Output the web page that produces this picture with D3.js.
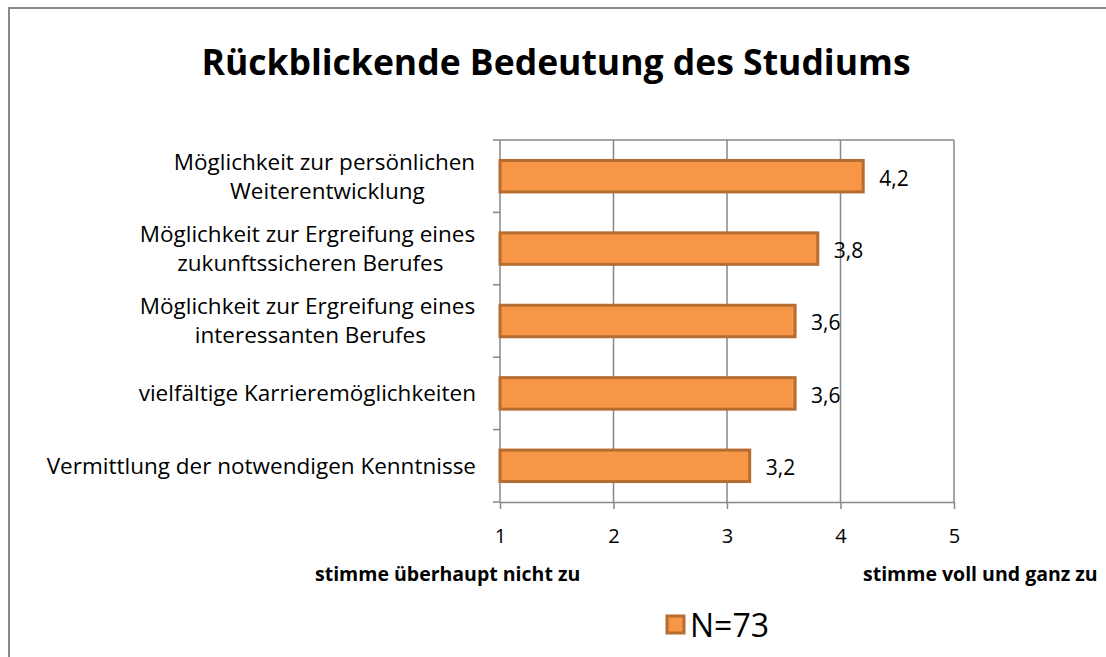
<!DOCTYPE html>
<html>
<head>
<meta charset="utf-8">
<script src="https://cdn.jsdelivr.net/npm/d3@7"></script>
<style>
  body { margin: 0; background: #fff; }
  svg text { font-family: "Open Sans", sans-serif; fill: #000; }
</style>
</head>
<body>
<svg id="chart" width="1106" height="657"></svg>
<script>
(function(d3) {
  "use strict";

  // categories top to bottom, each as lines of the label
  var categories = [
    ["Möglichkeit zur persönlichen ", "Weiterentwicklung"],
    ["Möglichkeit zur Ergreifung eines ", "zukunftssicheren Berufes"],
    ["Möglichkeit zur Ergreifung eines ", "interessanten Berufes"],
    ["vielfältige Karrieremöglichkeiten"],
    ["Vermittlung der notwendigen Kenntnisse"]
  ];
  var values = [4.2, 3.8, 3.6, 3.6, 3.2];
  var ticks = [1, 2, 3, 4, 5];
  var seriesName = "N=73";
  var title = "Rückblickende Bedeutung des Studiums";
  var axisLeftTitle = "stimme überhaupt nicht zu";
  var axisRightTitle = "stimme voll und ganz zu";

  var plot = { left: 500, right: 954, top: 140, bottom: 502 };
  var fill = "#f79646";
  var stroke = "#b66d31";
  var gridColor = "#878787";
  var fmt = function(v) { return d3.format(".1f")(v).replace(".", ","); };

  var svg = d3.select("#chart");

  // outer frame (only left and top edges inside the view)
  svg.append("rect")
    .attr("x", 9).attr("y", 8)
    .attr("width", 1200).attr("height", 700)
    .attr("fill", "none")
    .attr("stroke", "#888")
    .attr("stroke-width", 2);

  svg.append("text")
    .attr("x", 556).attr("y", 75)
    .attr("text-anchor", "middle")
    .style("font-size", "35.5px")
    .style("font-weight", "bold")
    .text(title);

  var x = d3.scaleLinear()
    .domain([1, 5])
    .range([plot.left, plot.right]);
  var y = d3.scaleBand()
    .domain(d3.range(categories.length))
    .range([plot.top, plot.bottom])
    .paddingInner(0.565)
    .paddingOuter(0.2825);
  var band = d3.scaleBand()
    .domain(d3.range(categories.length))
    .range([plot.top, plot.bottom]);

  // vertical gridlines
  svg.append("g")
    .selectAll("line")
    .data(ticks.slice(1))
    .enter()
    .append("line")
    .attr("x1", d => x(d)).attr("x2", d => x(d))
    .attr("y1", plot.top).attr("y2", plot.bottom)
    .attr("stroke", gridColor)
    .attr("stroke-width", 1.5);
  svg.append("line")
    .attr("x1", plot.left).attr("x2", plot.right)
    .attr("y1", plot.top).attr("y2", plot.top)
    .attr("stroke", gridColor)
    .attr("stroke-width", 1.5);

  // bottom axis
  var xAxis = svg.append("g")
    .attr("transform", `translate(0,${plot.bottom})`)
    .call(d3.axisBottom(x).tickValues(ticks).tickFormat(d3.format("d"))
      .tickSize(7).tickSizeOuter(0).tickPadding(20));
  xAxis.select(".domain").attr("stroke", gridColor).attr("stroke-width", 1.5);
  xAxis.selectAll(".tick line").attr("stroke", gridColor).attr("stroke-width", 1.5);
  xAxis.selectAll("text")
    .style("font-size", "20px")
    .style("font-family", "'Open Sans', sans-serif")
    .attr("fill", "#000");

  // left axis with boundary ticks
  var bounds = band.domain().map(i => band(i)).concat([plot.bottom]);
  svg.append("line")
    .attr("x1", plot.left).attr("x2", plot.left)
    .attr("y1", plot.top).attr("y2", plot.bottom)
    .attr("stroke", gridColor)
    .attr("stroke-width", 1.5);
  svg.append("g")
    .selectAll("line")
    .data(bounds)
    .enter()
    .append("line")
    .attr("x1", plot.left - 7).attr("x2", plot.left)
    .attr("y1", d => d).attr("y2", d => d)
    .attr("stroke", gridColor)
    .attr("stroke-width", 1.5);

  // bars
  svg.append("g")
    .selectAll("rect")
    .data(values)
    .enter()
    .append("rect")
    .attr("x", x(1))
    .attr("y", (d, i) => y(i))
    .attr("width", d => x(d) - x(1))
    .attr("height", y.bandwidth())
    .attr("fill", fill)
    .attr("stroke", stroke)
    .attr("stroke-width", 3);

  // value labels
  svg.append("g")
    .selectAll("text")
    .data(values)
    .enter()
    .append("text")
    .attr("x", d => x(d) + 16)
    .attr("y", (d, i) => y(i) + y.bandwidth() / 2 + 2)
    .attr("dy", "0.35em")
    .style("font-size", "21px")
    .text(d => fmt(d));

  // category labels, lines centred on each other, block right aligned
  var labelRight = 476;
  var lineGap = 29;
  categories.forEach(function(lines, i) {
    var cy = band(i) + band.bandwidth() / 2;
    var g = svg.append("g");
    var texts = g.selectAll("text")
      .data(lines)
      .enter()
      .append("text")
      .attr("y", (d, j) => cy + (j - (lines.length - 1) / 2) * lineGap)
      .attr("dy", "0.35em")
      .attr("text-anchor", "middle")
      .style("font-size", "22.5px")
      .style("white-space", "pre")
      .attr("xml:space", "preserve")
      .text(d => d);
    var widths = texts.nodes().map(n => n.getComputedTextLength());
    var w = d3.max(widths);
    var trailing = lines.length > 1 ? 5 : 0;
    texts.attr("x", labelRight - w / 2 + trailing);
  });

  // axis titles
  svg.append("text")
    .attr("x", 315).attr("y", 581)
    .style("font-size", "19.5px")
    .style("font-weight", "bold")
    .text(axisLeftTitle);
  svg.append("text")
    .attr("x", 863).attr("y", 581)
    .style("font-size", "19.5px")
    .style("font-weight", "bold")
    .text(axisRightTitle);

  // legend
  var legend = svg.append("g").attr("transform", "translate(667,616)");
  legend.append("rect")
    .attr("width", 17).attr("height", 17)
    .attr("fill", fill)
    .attr("stroke", stroke)
    .attr("stroke-width", 3);
  legend.append("text")
    .attr("x", 23).attr("y", 9)
    .attr("dy", "0.36em")
    .style("font-size", "32px")
    .text(seriesName);

})(d3);
</script>
</body>
</html>
